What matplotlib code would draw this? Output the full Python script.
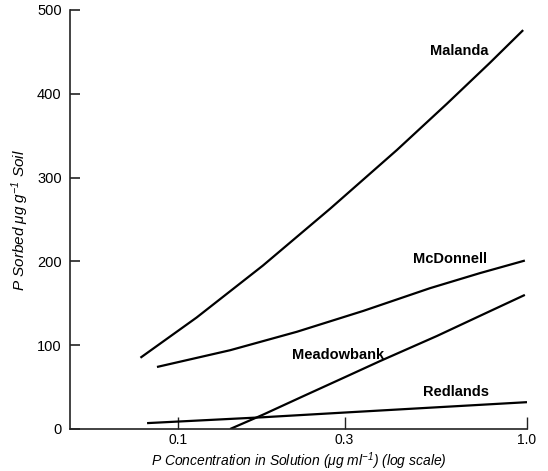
import matplotlib
matplotlib.use('Agg')
import matplotlib.pyplot as plt

plt.rcParams['font.family'] = ['Liberation Sans', 'DejaVu Sans']
plt.rcParams['mathtext.fontset'] = 'custom'
plt.rcParams['mathtext.rm'] = 'Liberation Sans:italic'
plt.rcParams['mathtext.it'] = 'Liberation Sans:italic'
plt.rcParams['mathtext.default'] = 'regular'

# values (x = P in solution, y = P sorbed)
malanda_x = [0.078, 0.113, 0.175, 0.273, 0.424, 0.589, 0.783, 0.975]
malanda_y = [85, 133, 195, 263, 333, 388, 437, 476]

mcdonnell_x = [0.087, 0.141, 0.219, 0.340, 0.527, 0.733, 0.986]
mcdonnell_y = [74, 94, 116, 141, 168, 186, 201]

meadowbank_x = [0.141, 0.175, 0.228, 0.305, 0.379, 0.552, 0.733, 0.986]
meadowbank_y = [0, 17, 39, 63, 81, 111, 135, 160]

redlands_x = [0.0815, 0.175, 0.311, 1.0]
redlands_y = [7, 14, 20, 32]

names = ['Malanda', 'McDonnell', 'Meadowbank', 'Redlands']
label_x = [0.527, 0.471, 0.212, 0.503]
label_y = [451, 203, 88, 44]

xticks = [0.1, 0.3, 1.0]
xticklabels = ['0.1', '0.3', '1.0']
yticks = [0, 100, 200, 300, 400, 500]

fig = plt.figure(figsize=(5.48, 4.71), dpi=100)
ax = fig.add_axes([0.1277, 0.0892, 0.834, 0.8896])

for xs, ys in [(malanda_x, malanda_y), (mcdonnell_x, mcdonnell_y),
               (meadowbank_x, meadowbank_y), (redlands_x, redlands_y)]:
    ax.plot(xs, ys, color='black', lw=1.6, solid_capstyle='butt',
            solid_joinstyle='round')

for name, lx, ly in zip(names, label_x, label_y):
    ax.text(lx, ly, name, fontsize=10.5, fontweight='bold', ha='left', va='center')

ax.set_xscale('log')
ax.set_xlim(0.049, 1.0)
ax.set_ylim(0, 500)
ax.set_xticks(xticks)
ax.set_xticklabels(xticklabels)
ax.xaxis.set_minor_locator(matplotlib.ticker.NullLocator())
ax.set_yticks(yticks)

ax.spines['top'].set_visible(False)
ax.spines['right'].set_visible(False)
for s in ['left', 'bottom']:
    ax.spines[s].set_linewidth(1.2)
    ax.spines[s].set_color('#222222')

ax.tick_params(axis='y', direction='in', length=7, width=1.2, pad=6,
               labelsize=10.5, color='#222222')
ax.tick_params(axis='x', direction='in', length=9, width=1.0, pad=3,
               labelsize=10, color='#222222')

ax.set_xlabel(r'P Concentration in Solution ($\mu$g ml$^{-1}$) (log scale)',
              fontsize=10, fontstyle='italic', labelpad=2)
ax.set_ylabel(r'P Sorbed $\mu$g g$^{-1}$ Soil', fontsize=11,
              fontstyle='italic', labelpad=4)

fig.savefig('out.png', dpi=100)
